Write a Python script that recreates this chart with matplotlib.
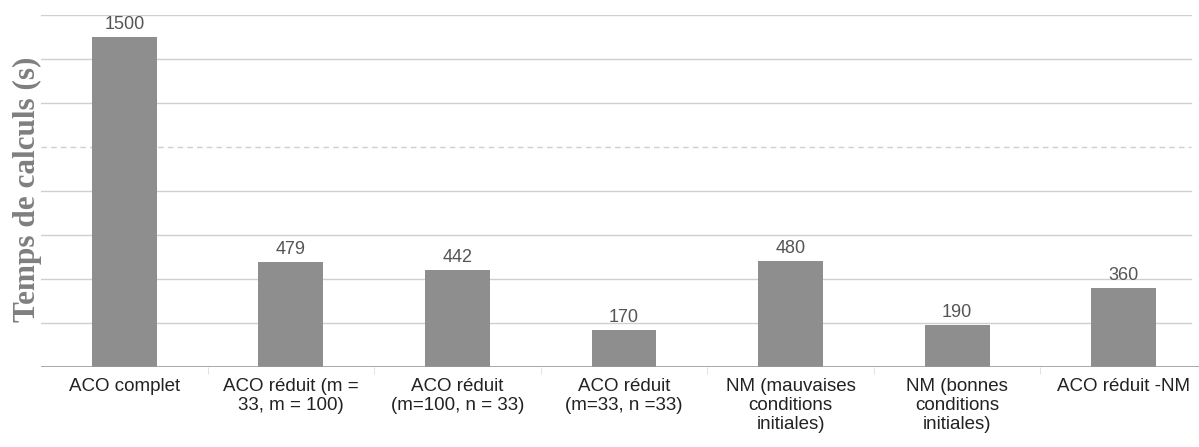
import numpy as np
import matplotlib.pyplot as plt
from matplotlib.ticker import FixedLocator

# computing time per method
labels = ["ACO complet",
          "ACO réduit (m =\n33, m = 100)",
          "ACO réduit\n(m=100, n = 33)",
          "ACO réduit\n(m=33, n =33)",
          "NM (mauvaises\nconditions\ninitiales)",
          "NM (bonnes\nconditions\ninitiales)",
          "ACO réduit -NM"]
times = [1500, 479, 442, 170, 480, 190, 360]
grid_levels = [200, 400, 600, 800, 1000, 1200, 1400, 1600]

fig = plt.figure(figsize=(11.99, 4.47), dpi=100)
ax = fig.add_axes([41 / 1199, 1 - 367 / 447, 1166 / 1199, 352 / 447])

x = np.arange(len(times))

# horizontal guide lines
for g in grid_levels:
    ls = (0, (4, 3)) if g == 1000 else '-'
    ax.axhline(g, xmax=0.986, color='#cfcfcf', lw=1, ls=ls, zorder=0)
ax.axhline(0, color='#9a9a9a', lw=1.2, zorder=3)

bars = ax.bar(x, times, width=0.39, color='#8e8e8e', zorder=2)
for xi, t in zip(x, times):
    ax.text(xi, t + 18, str(t), ha='center', va='bottom', fontsize=13,
            color='#555555', family='Liberation Sans')

ax.set_xlim(-0.5, len(times) - 0.5)
ax.set_ylim(0, 1600)
ax.set_yticks([])
ax.set_xticks(x)
ax.set_xticklabels(labels, fontsize=13.5, family='Liberation Sans',
                   color='#222222', linespacing=1.15)
ax.tick_params(axis='x', which='major', length=0, pad=8)
ax.xaxis.set_minor_locator(FixedLocator(x[:-1] + 0.5))
ax.tick_params(axis='x', which='minor', length=5, color='#dddddd')
for s in ax.spines.values():
    s.set_visible(False)

fig.text(27 / 1199, 1 - 189 / 447, "Temps de calculs (s)", rotation=90,
         ha='center', va='center', fontsize=22.5, fontweight='bold',
         family='Liberation Serif', color='#7f7f7f')

fig.savefig('out.png', dpi=100)
